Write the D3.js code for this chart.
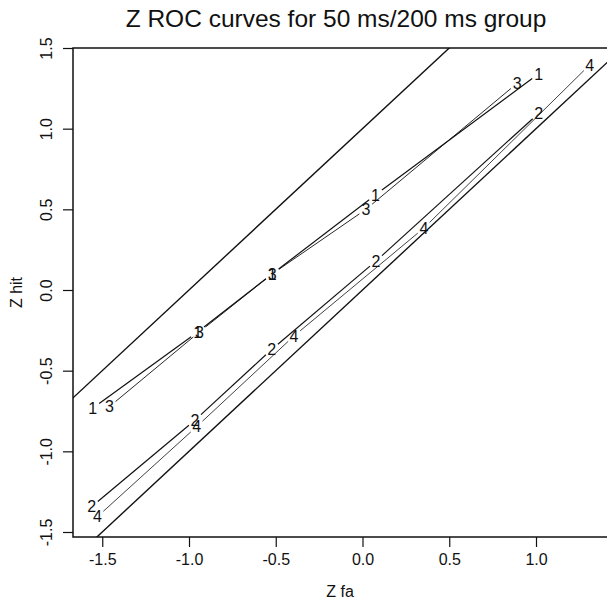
<!DOCTYPE html>
<html>
<head>
<meta charset="utf-8">
<script src="https://cdn.jsdelivr.net/npm/d3@7"></script>
<style>
  body { margin: 0; background: #fff; }
  svg { display: block; }
  text { font-family: "Liberation Sans", Arial, Helvetica, sans-serif; fill: #111; }
</style>
</head>
<body>
<div class="canvas"></div>
<script>
// DATA

const xTicks = [-1.5, -1.0, -0.5, 0.0, 0.5, 1.0];
const yTicks = [-1.5, -1.0, -0.5, 0.0, 0.5, 1.0, 1.5];

// the four curves, labelled by their own number
const seriesNames = ['1', '2', '3', '4'];
const fa1  = [-1.555, -0.95, -0.52, 0.075, 1.015];
const hit1 = [-0.733, -0.26, 0.10, 0.59, 1.34];
const fa2  = [-1.561, -0.965, -0.523, 0.078, 1.015];
const hit2 = [-1.343, -0.806, -0.368, 0.18, 1.095];
const fa3  = [-1.459, -0.94, -0.52, 0.02, 0.891];
const hit3 = [-0.723, -0.26, 0.10, 0.50, 1.281];
const fa4  = [-1.528, -0.956, -0.395, 0.354, 1.309];
const hit4 = [-1.405, -0.847, -0.285, 0.384, 1.395];

// straight reference lines  z hit = z fa + intercept
const refIntercepts = [1, 0];


const W = 607, H = 599;

const svg = d3.select('.canvas').append('svg')
    .attr('width', W)
    .attr('height', H);

// scales
const x = d3.scaleLinear().domain([-1.5, 1.0]).range([102.25, 536]);
const y = d3.scaleLinear().domain([-1.5, 1.5]).range([532, 48]);

// plot region
const pLeft = 73, pRight = 607, pTop = 48, pBottom = 537;

// R style labels: plain hyphen minus
const fmt = d => d.toFixed(1);

svg.append('clipPath').attr('id', 'plot')
    .append('rect')
    .attr('x', pLeft).attr('y', pTop)
    .attr('width', pRight - pLeft).attr('height', pBottom - pTop);


// title
svg.append('text')
    .attr('x', 336)
    .attr('y', 27)
    .attr('text-anchor', 'middle')
    .style('font-size', '24.5px')
    .text('Z ROC curves for 50 ms/200 ms group');


// AXES
const xAxis = svg.append('g')
    .attr('transform', `translate(0,${pBottom})`)
    .call(d3.axisBottom(x).tickValues(xTicks).tickFormat(fmt).tickSize(10).tickPadding(7));

const yAxis = svg.append('g')
    .attr('transform', `translate(${pLeft},0)`)
    .call(d3.axisLeft(y).tickValues(yTicks).tickFormat(fmt).tickSize(10));

[xAxis, yAxis].forEach(a => {
    a.select('.domain').remove();
    a.selectAll('line').attr('stroke', '#111').attr('stroke-width', 1.2);
    a.selectAll('text')
        .style('font-size', '16px')
        .attr('fill', '#111')
        .style('font-family', '"Liberation Sans", Arial, sans-serif');
});

yAxis.selectAll('text')
    .attr('x', 0)
    .attr('dy', 0)
    .attr('text-anchor', 'middle')
    .attr('transform', 'translate(-21,0) rotate(-90)');

// box
svg.append('rect')
    .attr('x', pLeft).attr('y', pTop)
    .attr('width', pRight - pLeft + 5).attr('height', pBottom - pTop)
    .attr('fill', 'none')
    .attr('stroke', '#111')
    .attr('stroke-width', 1.5);

// axis titles
svg.append('text')
    .attr('x', 340)
    .attr('y', 597)
    .attr('text-anchor', 'middle')
    .style('font-size', '16px')
    .text('Z fa');

svg.append('text')
    .attr('transform', `translate(22,${(pTop + pBottom) / 2}) rotate(-90)`)
    .attr('text-anchor', 'middle')
    .style('font-size', '16px')
    .text('Z hit');


// REFERENCE LINES
const plotArea = svg.append('g').attr('clip-path', 'url(#plot)');

refIntercepts.forEach(b => {
    plotArea.append('line')
        .attr('x1', x(-2)).attr('y1', y(-2 + b))
        .attr('x2', x(2)).attr('y2', y(2 + b))
        .attr('stroke', '#111')
        .attr('stroke-width', 1.4);
});


// SERIES (type "b": lines broken around the number labels)
const allFa = [fa1, fa2, fa3, fa4];
const allHit = [hit1, hit2, hit3, hit4];
const widths = [1.2, 1.2, 0.9, 0.8];
const gap = 8;

seriesNames.forEach((name, s) => {
    const pts = allFa[s].map((f, i) => [x(f), y(allHit[s][i])]);
    const group = plotArea.append('g');

    for (let i = 0; i < pts.length - 1; i++) {
        const [x0, y0] = pts[i], [x1, y1] = pts[i + 1];
        const len = Math.hypot(x1 - x0, y1 - y0);
        if (len <= 2 * gap) continue;
        const ux = (x1 - x0) / len, uy = (y1 - y0) / len;
        group.append('line')
            .attr('x1', x0 + ux * gap).attr('y1', y0 + uy * gap)
            .attr('x2', x1 - ux * gap).attr('y2', y1 - uy * gap)
            .attr('stroke', '#111')
            .attr('stroke-width', widths[s]);
    }

    pts.forEach(p => {
        group.append('text')
            .attr('x', p[0])
            .attr('y', p[1])
            .attr('dy', '0.36em')
            .attr('text-anchor', 'middle')
            .style('font-size', '16px')
            .text(name);
    });
});
</script>
</body>
</html>
